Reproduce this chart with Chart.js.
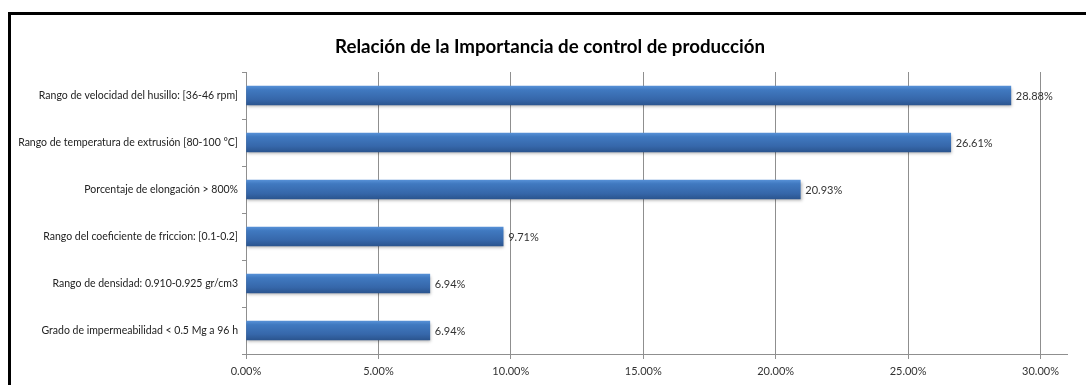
<!DOCTYPE html>
<html>
<head>
<meta charset="utf-8">
<title>Relación de la Importancia de control de producción</title>
<script src="https://cdn.jsdelivr.net/npm/chart.js@4/dist/chart.umd.min.js"></script>
<style>
  html, body { margin: 0; padding: 0; background: #fff; }
  #wrap { position: relative; width: 1086px; height: 385px; overflow: hidden; }
  #frame {
    position: absolute; left: 8px; top: 12px; right: -10px; bottom: -10px;
    border-top: 3px solid #000; border-left: 3px solid #000;
    pointer-events: none;
  }
  canvas { position: absolute; left: 0; top: 0; }
</style>
</head>
<body>
<div id="wrap">
  <canvas id="chart" width="1086" height="385"></canvas>
  <div id="frame"></div>
</div>
<script>
const chartTitle = 'Relación de la Importancia de control de producción';

const categories = [
  'Rango de velocidad del husillo: [36-46 rpm]',
  'Rango de temperatura de extrusión [80-100 °C]',
  'Porcentaje de elongación > 800%',
  'Rango del coeficiente de friccion: [0.1-0.2]',
  'Rango de densidad: 0.910-0.925 gr/cm3',
  'Grado de impermeabilidad < 0.5 Mg a 96 h'
];

// importance, in percent
const importance = [28.88, 26.61, 20.93, 9.71, 6.94, 6.94];

const xTicks = [0, 5, 10, 15, 20, 25, 30];

const FONT = 'Lato, "Liberation Sans", sans-serif';
const BAR_H = 19;
const fmtPct = v => v.toFixed(2) + '%';

// vertical gradient across a single bar
function barGradient(c) {
  const chart = c.chart;
  const y = chart.scales.y;
  const yc = y ? y.getPixelForValue(c.dataIndex) : NaN;
  if (!isFinite(yc)) return '#3c74ba';
  const g = chart.ctx.createLinearGradient(0, yc - BAR_H / 2, 0, yc + BAR_H / 2);
  g.addColorStop(0, '#5690d6');
  g.addColorStop(0.2, '#4079c0');
  g.addColorStop(0.7, '#3667aa');
  g.addColorStop(1, '#2b558f');
  return g;
}

// soft drop shadow under the bars
const barShadow = {
  id: 'barShadow',
  beforeDatasetDraw(chart) {
    const ctx = chart.ctx;
    ctx.save();
    ctx.shadowColor = 'rgba(0,0,0,0.3)';
    ctx.shadowBlur = 3;
    ctx.shadowOffsetX = 1;
    ctx.shadowOffsetY = 2;
  },
  afterDatasetDraw(chart) {
    chart.ctx.restore();
  }
};

// title, centred over the frame
const titleText = {
  id: 'titleText',
  afterDraw(chart) {
    const ctx = chart.ctx;
    ctx.save();
    ctx.font = 'bold 18.7px ' + FONT;
    ctx.fillStyle = '#000';
    ctx.textAlign = 'center';
    ctx.textBaseline = 'middle';
    ctx.fillText(chartTitle, 550, 47);
    ctx.restore();
  }
};

// value labels at the end of the bars
const valueLabels = {
  id: 'valueLabels',
  afterDatasetsDraw(chart) {
    const ctx = chart.ctx;
    const meta = chart.getDatasetMeta(0);
    ctx.save();
    ctx.font = '11px ' + FONT;
    ctx.fillStyle = '#333';
    ctx.textAlign = 'left';
    ctx.textBaseline = 'middle';
    meta.data.forEach((bar, i) => {
      ctx.fillText(fmtPct(importance[i]), bar.x + 5, bar.y + 1);
    });
    ctx.restore();
  }
};

new Chart(document.getElementById('chart'), {
  type: 'bar',
  data: {
    labels: categories,
    datasets: [{
      data: importance,
      backgroundColor: barGradient,
      borderWidth: 0,
      barThickness: BAR_H
    }]
  },
  options: {
    indexAxis: 'y',
    responsive: false,
    animation: false,
    layout: { padding: { left: 0, right: 19, top: 72, bottom: 0 } },
    plugins: {
      legend: { display: false },
      tooltip: { enabled: false },
      title: { display: false }
    },
    scales: {
      x: {
        min: 0,
        max: 31,
        afterBuildTicks(scale) {
          scale.ticks = xTicks.map(v => ({ value: v }));
        },
        afterFit(scale) { scale.height = 31; },
        grid: {
          color: '#8f8f8f',
          lineWidth: 1,
          tickLength: 5,
          drawOnChartArea: true
        },
        border: { color: '#8f8f8f', width: 1 },
        ticks: {
          color: '#333',
          padding: 6,
          maxRotation: 0,
          font: { family: FONT, size: 11 },
          callback: v => fmtPct(v)
        }
      },
      y: {
        afterFit(scale) { scale.width = 246; },
        grid: {
          offset: true,
          drawOnChartArea: false,
          color: '#8f8f8f',
          tickLength: 4
        },
        border: { color: '#8f8f8f', width: 1 },
        ticks: {
          color: '#222',
          padding: 4,
          font: { family: FONT, size: 10.5 }
        }
      }
    }
  },
  plugins: [barShadow, titleText, valueLabels]
});
</script>
</body>
</html>
